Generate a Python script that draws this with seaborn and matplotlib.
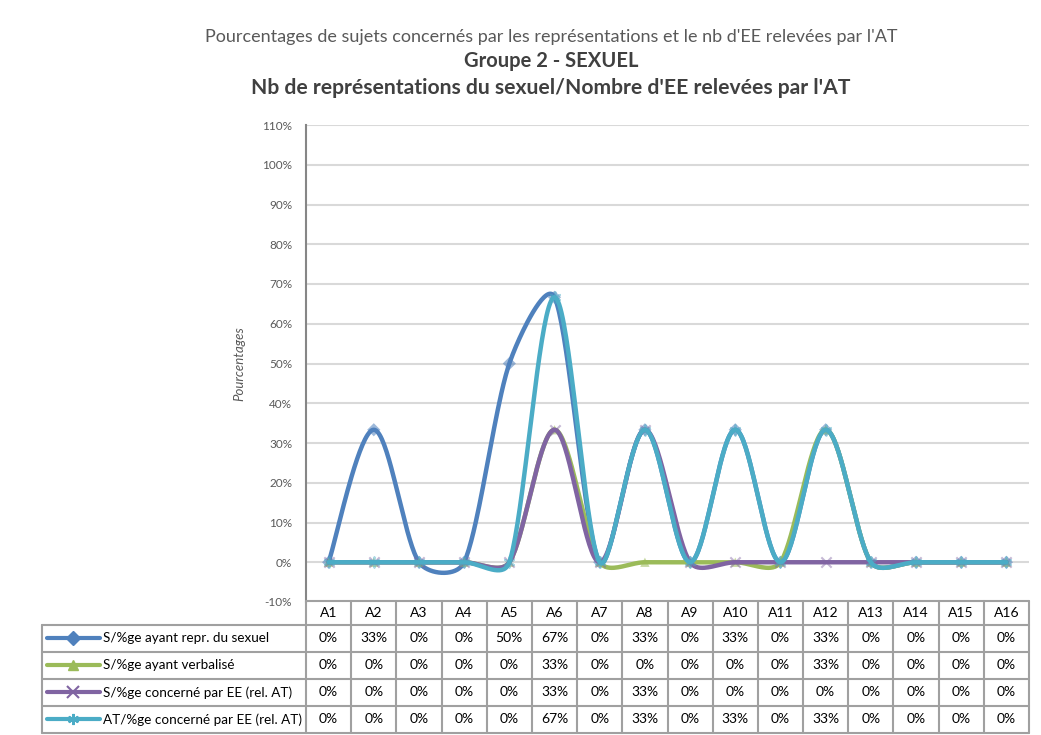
import numpy as np
import pandas as pd
import matplotlib
matplotlib.use("Agg")
import matplotlib.pyplot as plt
import matplotlib.transforms as mtransforms
from matplotlib.lines import Line2D
import seaborn as sns

categories = [f"A{i}" for i in range(1, 17)]
series_names = [
    "S/%ge ayant repr. du sexuel",
    "S/%ge ayant verbalisé",
    "S/%ge concerné par EE (rel. AT)",
    "AT/%ge concerné par EE (rel. AT)",
]
repr_sexuel = [0, 33.33, 0, 0, 50, 66.67, 0, 33.33, 0, 33.33, 0, 33.33, 0, 0, 0, 0]
verbalise = [0, 0, 0, 0, 0, 33.33, 0, 0, 0, 0, 0, 33.33, 0, 0, 0, 0]
concerne_ee = [0, 0, 0, 0, 0, 33.33, 0, 33.33, 0, 0, 0, 0, 0, 0, 0, 0]
at_concerne = [0, 0, 0, 0, 0, 66.67, 0, 33.33, 0, 33.33, 0, 33.33, 0, 0, 0, 0]
all_values = [repr_sexuel, verbalise, concerne_ee, at_concerne]

colors = ["#4F81BD", "#9BBB59", "#8064A2", "#4BACC6"]
markers = ["D", "^", "x", (6, 2, 0)]

W, H = 1041, 735
sns.set_style("white")
plt.rcParams["font.family"] = ["Lato", "DejaVu Sans"]


def excel_smooth(ys, sx, sy, n=40):
    # bezier smoothing close to Excel "smoothed line", done in pixel space
    P = np.column_stack([np.arange(len(ys)) * sx, np.asarray(ys, float) * sy])
    m = len(P)
    out = []
    for i in range(m - 1):
        p0, p1, p2, p3 = P[max(i - 1, 0)], P[i], P[i + 1], P[min(i + 2, m - 1)]
        d01 = np.linalg.norm(p1 - p0) or 1e-9
        d12 = np.linalg.norm(p2 - p1)
        d23 = np.linalg.norm(p3 - p2) or 1e-9
        f1 = min(1.0, np.sqrt(d12 / d01)) / 6
        f2 = min(1.0, np.sqrt(d12 / d23)) / 6
        if i == 0:
            f1 = 1 / 6
        if i == m - 2:
            f2 = 1 / 6
        c1 = p1 + (p2 - p0) * f1
        c2 = p2 - (p3 - p1) * f2
        t = np.linspace(0, 1, n)[:, None]
        b = (1 - t) ** 3 * p1 + 3 * (1 - t) ** 2 * t * c1 + 3 * (1 - t) * t ** 2 * c2 + t ** 3 * p2
        out.append(b if i == 0 else b[1:])
    out = np.vstack(out)
    return out[:, 0] / sx, out[:, 1] / sy


sx, sy = 45.2, 3.975
rows = []
for name, vals in zip(series_names, all_values):
    xs, ys = excel_smooth(vals, sx, sy)
    rows.append(pd.DataFrame({"x": xs, "y": ys, "serie": name}))
curves = pd.concat(rows, ignore_index=True)
points = pd.DataFrame({
    "x": np.tile(np.arange(len(categories)), len(series_names)),
    "y": np.concatenate(all_values),
    "serie": np.repeat(series_names, len(categories)),
})

fig = plt.figure(figsize=(W / 100, H / 100), dpi=100)
ax = fig.add_axes([306 / W, 1 - 602 / H, 723 / W, 477 / H])

for i, name in enumerate(series_names):
    sns.lineplot(data=curves[curves.serie == name], x="x", y="y", color=colors[i],
                 sort=False, estimator=None, linewidth=3.2, ax=ax, zorder=3 + i)
    pts = points[points.serie == name]
    if markers[i] in ("D", "^"):
        sns.scatterplot(data=pts, x="x", y="y", marker=markers[i], color=colors[i],
                        s=45, alpha=0.55, edgecolor="none", ax=ax, zorder=3 + i)
    else:
        sns.scatterplot(data=pts, x="x", y="y", marker=markers[i], color=colors[i],
                        s=55, alpha=0.45, linewidth=1.5, ax=ax, zorder=3 + i)

ax.set_xlim(-0.5, len(categories) - 0.5)
ax.set_ylim(-10, 110)
ax.set_yticks(range(-10, 111, 10))
ax.set_yticklabels([f"{v}%" for v in range(-10, 111, 10)], fontsize=8.5, color="#595959")
ax.set_xticks([])
ax.set_xlabel("")
ax.set_ylabel("Pourcentages", fontsize=9.5, style="italic", color="#595959", labelpad=12)
ax.grid(axis="y", color="#D9D9D9", linewidth=1.5)
ax.tick_params(axis="y", length=0, pad=10)
for s in ["top", "right", "bottom"]:
    ax.spines[s].set_visible(False)
ax.spines["left"].set_color("#868686")
ax.spines["left"].set_linewidth(1.5)

# titles
fig.text(551 / W, 1 - 37 / H, "Pourcentages de sujets concernés par les représentations et le nb d'EE relevées par l'AT",
         ha="center", va="center", fontsize=13, color="#595959")
fig.text(551 / W, 1 - 61 / H, "Groupe 2 - SEXUEL", ha="center", va="center",
         fontsize=14.5, fontweight="bold", color="#404040")
fig.text(551 / W, 1 - 88 / H, "Nb de représentations du sexuel/Nombre d'EE relevées par l'AT",
         ha="center", va="center", fontsize=15.2, fontweight="bold", color="#404040")

# data table
pix = mtransforms.Affine2D().scale(1 / W, -1 / H).translate(0, 1) + fig.transFigure
blend = mtransforms.blended_transform_factory(ax.transData, pix)
border = dict(color="#A0A0A0", linewidth=1.5, clip_on=False)
row_lines = [625, 652, 679, 706, 733]
n = len(categories)

fig.add_artist(Line2D([-0.5, n - 0.5], [601, 601], transform=blend, **border))
for yl in row_lines:
    fig.add_artist(Line2D([-0.5, n - 0.5], [yl, yl], transform=blend, **border))
    fig.add_artist(Line2D([42, 306], [yl, yl], transform=pix, **border))
for k in range(n + 1):
    fig.add_artist(Line2D([k - 0.5, k - 0.5], [601, 733], transform=blend, **border))
fig.add_artist(Line2D([42, 42], [625, 733], transform=pix, **border))

for k, cat in enumerate(categories):
    fig.text(k, 613.5, cat, transform=blend, ha="center", va="center", fontsize=10, color="#000000")
for r, (name, vals) in enumerate(zip(series_names, all_values)):
    yc = (row_lines[r] + row_lines[r + 1]) / 2
    for k, v in enumerate(vals):
        fig.text(k, yc, f"{v:.0f}%", transform=blend, ha="center", va="center", fontsize=10, color="#000000")
    fig.add_artist(Line2D([47, 100], [yc, yc], transform=pix, color=colors[r], linewidth=3))
    if markers[r] in ("D", "^"):
        fig.add_artist(Line2D([73], [yc], transform=pix, marker=markers[r], color=colors[r],
                              markersize=7, linestyle="none"))
    else:
        fig.add_artist(Line2D([73], [yc], transform=pix, marker=markers[r], color=colors[r],
                              markersize=8, markeredgewidth=1.5, linestyle="none"))
    fig.text(103, yc, name, transform=pix, ha="left", va="center", fontsize=9.7, color="#000000")

fig.savefig("out.png", dpi=100)
